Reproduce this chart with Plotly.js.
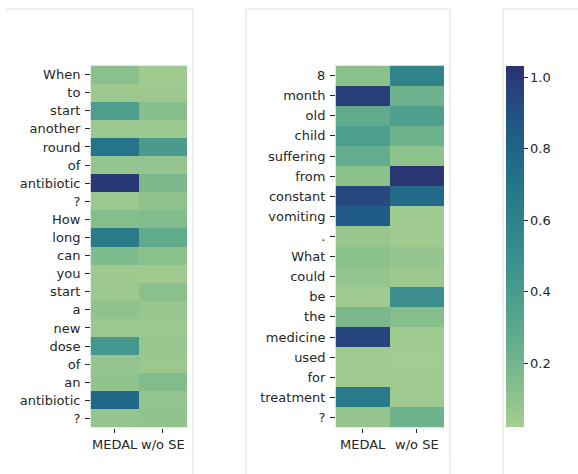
<!DOCTYPE html>
<html>
<head>
<meta charset="utf-8">
<script src="https://cdn.plot.ly/plotly-3.0.1.min.js"></script>
<style>html,body{margin:0;padding:0;background:#fff;}#chart{width:578px;height:474px;}</style>
</head>
<body>
<div id="chart"></div>
<script>
// ---- data ----
const methods = ['MEDAL', 'w/o SE'];

const tokens1 = ['When','to','start','another','round','of','antibiotic','?','How','long',
                 'can','you','start','a','new','dose','of','an','antibiotic','?'];
const medal1 = [0.12,0.05,0.38,0.06,0.70,0.08,1.00,0.06,0.14,0.65,
                0.16,0.05,0.06,0.10,0.06,0.43,0.08,0.09,0.78,0.08];
const wose1  = [0.04,0.05,0.13,0.06,0.40,0.08,0.17,0.10,0.15,0.28,
                0.12,0.04,0.12,0.07,0.06,0.07,0.06,0.15,0.08,0.09];

const tokens2 = ['8','month','old','child','suffering','from','constant','vomiting','.','What',
                 'could','be','the','medicine','used','for','treatment','?'];
const medal2 = [0.12,0.98,0.28,0.37,0.27,0.11,0.93,0.85,0.07,0.11,
                0.08,0.04,0.17,0.95,0.04,0.04,0.66,0.08];
const wose2  = [0.58,0.22,0.38,0.22,0.10,1.01,0.76,0.04,0.04,0.08,
                0.05,0.50,0.13,0.04,0.03,0.04,0.04,0.22];

const colorTicks = [0.2, 0.4, 0.6, 0.8, 1.0];

// ---- helpers ----
const W = 578, H = 474;
const px = v => v / W;
const py = v => 1 - v / H;

const crest = [
  [0.00, '#a5cd90'],
  [0.10, '#88c08c'],
  [0.20, '#6db28e'],
  [0.30, '#57a58d'],
  [0.40, '#45988c'],
  [0.50, '#388b8b'],
  [0.60, '#2c7e8a'],
  [0.70, '#237089'],
  [0.80, '#1f6087'],
  [0.90, '#264a80'],
  [1.00, '#2c3172']
];
const zmin = 0.021, zmax = 1.032;

function zOf(a, b) { return a.map((v, i) => [v, b[i]]); }
const idx = arr => arr.map((_, i) => i);

const font = {family: 'DejaVu Sans, sans-serif', size: 13, color: '#262626'};

const trace1 = {
  type: 'heatmap', x: methods, y: idx(tokens1), z: zOf(medal1, wose1),
  colorscale: crest, zmin: zmin, zmax: zmax, showscale: false,
  xaxis: 'x', yaxis: 'y', hoverinfo: 'z'
};
const trace2 = {
  type: 'heatmap', x: methods, y: idx(tokens2), z: zOf(medal2, wose2),
  colorscale: crest, zmin: zmin, zmax: zmax, showscale: true,
  xaxis: 'x2', yaxis: 'y2', hoverinfo: 'z',
  colorbar: {
    x: px(506), xanchor: 'left', xpad: 0, ypad: 0,
    y: py(66), yanchor: 'top', len: (427.3 - 66) / H, lenmode: 'fraction',
    thickness: 18.3, thicknessmode: 'pixels',
    outlinewidth: 0,
    tickvals: colorTicks, ticktext: colorTicks.map(v => v.toFixed(1)),
    ticks: 'outside', ticklen: 4, tickwidth: 1, tickcolor: '#262626',
    tickfont: font
  }
};

const yBase = {
  showgrid: false, zeroline: false, showline: false,
  ticks: 'outside', ticklen: 4.5, tickwidth: 1, tickcolor: '#262626',
  ticklabelstandoff: 2,
  tickfont: font, fixedrange: true
};
const xBase = {
  type: 'category', showgrid: false, zeroline: false, showline: false,
  ticks: 'outside', ticklen: 4.5, tickwidth: 1, tickcolor: '#262626',
  tickfont: font, fixedrange: true
};

const lineCol = '#dddddd';
const shapes = [
  // panel 1
  {type:'line', xref:'paper', yref:'paper', x0:px(6), x1:px(193), y0:py(9), y1:py(9), line:{color:lineCol, width:1}},
  {type:'line', xref:'paper', yref:'paper', x0:px(193), x1:px(193), y0:py(9), y1:0, line:{color:lineCol, width:1}},
  // panel 2
  {type:'line', xref:'paper', yref:'paper', x0:px(246), x1:px(450), y0:py(9), y1:py(9), line:{color:lineCol, width:1}},
  {type:'line', xref:'paper', yref:'paper', x0:px(246), x1:px(246), y0:py(9), y1:0, line:{color:lineCol, width:1}},
  {type:'line', xref:'paper', yref:'paper', x0:px(450), x1:px(450), y0:py(9), y1:0, line:{color:lineCol, width:1}},
  // panel 3
  {type:'line', xref:'paper', yref:'paper', x0:px(503), x1:1, y0:py(9), y1:py(9), line:{color:lineCol, width:1}},
  {type:'line', xref:'paper', yref:'paper', x0:px(503), x1:px(503), y0:py(9), y1:0, line:{color:lineCol, width:1}}
];

const layout = {
  width: W, height: H,
  margin: {l: 0, r: 0, t: 0, b: 0, pad: 0},
  paper_bgcolor: '#ffffff', plot_bgcolor: '#ffffff',
  showlegend: false,
  font: font,
  xaxis: Object.assign({}, xBase, {domain: [px(90.5), px(187)], anchor: 'y'}),
  yaxis: Object.assign({}, yBase, {domain: [py(427.5), py(65.5)], anchor: 'x',
          range: [tokens1.length - 0.5, -0.5], tickvals: idx(tokens1), ticktext: tokens1}),
  xaxis2: Object.assign({}, xBase, {domain: [px(335.5), px(444)], anchor: 'y2'}),
  yaxis2: Object.assign({}, yBase, {domain: [py(427.5), py(65.5)], anchor: 'x2',
          range: [tokens2.length - 0.5, -0.5], tickvals: idx(tokens2), ticktext: tokens2}),
  shapes: shapes
};

Plotly.newPlot('chart', [trace1, trace2], layout, {displayModeBar: false, staticPlot: true});
</script>
</body>
</html>
